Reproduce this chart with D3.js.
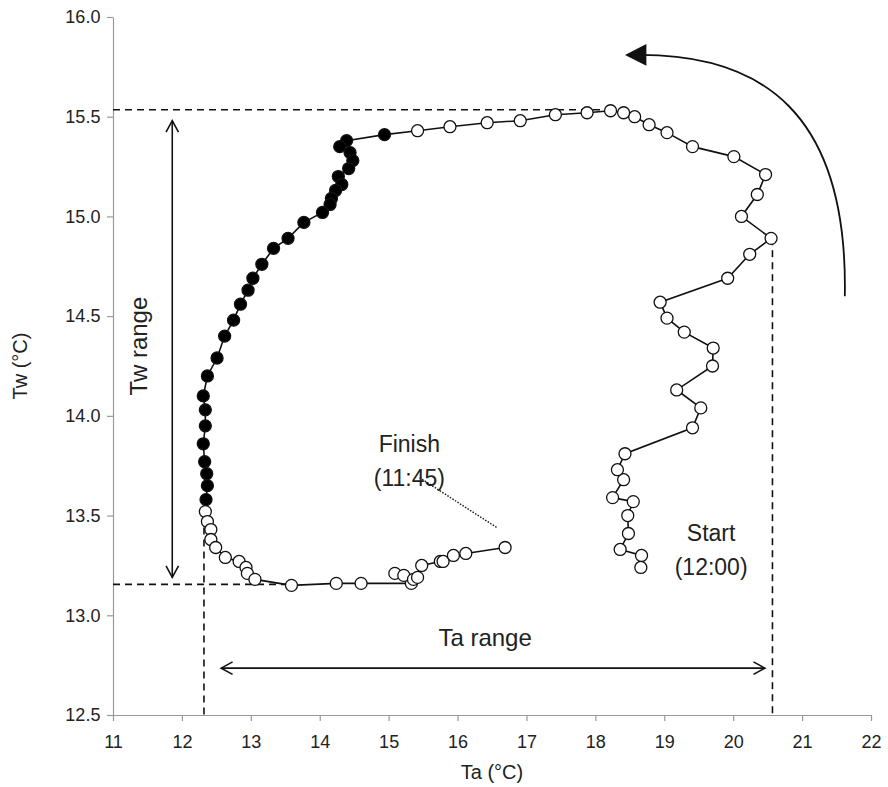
<!DOCTYPE html>
<html>
<head>
<meta charset="utf-8">
<script src="https://cdn.jsdelivr.net/npm/d3@7"></script>
<style>
  body { margin: 0; background: #fff; }
  text { font-family: "Liberation Sans", Arial, sans-serif; fill: #222; }
</style>
</head>
<body>
<div id="chart"></div>
<script>
// Ta / Tw track in time order, starting at 12:00 and finishing at 11:45
const ta = [18.66, 18.67, 18.36, 18.48, 18.47, 18.55, 18.25, 18.41, 18.32, 18.43,
  19.41, 19.53, 19.18, 19.70, 19.71, 19.29, 19.04, 18.94, 19.92, 20.24,
  20.55, 20.12, 20.35, 20.47, 20.01, 19.41, 19.04, 18.78, 18.57, 18.41,
  18.22, 17.88, 17.42, 16.91, 16.43, 15.89, 15.42,
  14.94, 14.39, 14.29, 14.44, 14.48, 14.42, 14.27, 14.32, 14.23, 14.17,
  14.15, 14.04, 13.77, 13.54, 13.33, 13.16, 13.03, 12.96, 12.85, 12.75,
  12.62, 12.51, 12.37, 12.31, 12.34, 12.34, 12.31, 12.33, 12.36, 12.37, 12.35,
  12.34, 12.37, 12.42, 12.42, 12.49, 12.63, 12.83, 12.93, 12.95, 13.06,
  13.59, 14.24, 14.60, 15.33, 15.09, 15.22, 15.36, 15.42, 15.48, 15.75,
  15.79, 15.94, 16.12, 16.69];
const tw = [13.24, 13.30, 13.33, 13.41, 13.50, 13.57, 13.59, 13.68, 13.73, 13.81,
  13.94, 14.04, 14.13, 14.25, 14.34, 14.42, 14.49, 14.57, 14.69, 14.81,
  14.89, 15.00, 15.11, 15.21, 15.30, 15.35, 15.42, 15.46, 15.50, 15.52,
  15.53, 15.52, 15.51, 15.48, 15.47, 15.45, 15.43,
  15.41, 15.38, 15.35, 15.32, 15.28, 15.24, 15.20, 15.16, 15.13, 15.09,
  15.06, 15.02, 14.97, 14.89, 14.84, 14.76, 14.69, 14.63, 14.56, 14.48,
  14.40, 14.29, 14.20, 14.10, 14.03, 13.95, 13.86, 13.77, 13.71, 13.65, 13.58,
  13.52, 13.47, 13.43, 13.38, 13.34, 13.29, 13.27, 13.24, 13.21, 13.18,
  13.15, 13.16, 13.16, 13.16, 13.21, 13.20, 13.18, 13.19, 13.25, 13.27,
  13.27, 13.30, 13.31, 13.34];
// points drawn filled (index range, inclusive)
const filledRange = [37, 67];

const xTicks = [11, 12, 13, 14, 15, 16, 17, 18, 19, 20, 21, 22];
const yTicks = [12.5, 13.0, 13.5, 14.0, 14.5, 15.0, 15.5, 16.0];

// range markers (data units)
const twMax = 15.535, twMin = 13.155;
const taMin = 12.32, taMax = 20.57;

const w = 888, h = 787;
const margin = {left: 113, right: 17, top: 17, bottom: 72};

const svg = d3.select("#chart").append("svg")
  .attr("width", w).attr("height", h);

const x = d3.scaleLinear().domain([11, 22]).range([margin.left, w - margin.right]);
const y = d3.scaleLinear().domain([12.5, 16]).range([h - margin.bottom, margin.top]);

// axes
const xAxis = d3.axisBottom(x).tickValues(xTicks).tickSize(6).tickSizeOuter(0)
  .tickFormat(d3.format("d"));
const yAxis = d3.axisLeft(y).tickValues(yTicks).tickSize(6).tickSizeOuter(0)
  .tickFormat(d3.format(".1f"));

const gx = svg.append("g").attr("transform", `translate(0,${y(12.5)})`).call(xAxis);
const gy = svg.append("g").attr("transform", `translate(${x(11)},0)`).call(yAxis);
[gx, gy].forEach(g => {
  g.selectAll("path, line").attr("stroke", "#9a9a9a").attr("stroke-width", 1.2);
  g.selectAll("text").attr("font-size", 18).attr("fill", "#2a2a2a")
    .style("font-family", "'Liberation Sans', Arial, sans-serif");
});
gx.selectAll("text").attr("dy", "1.35em");
gy.selectAll("text").attr("dx", "-0.2em");

svg.append("text").attr("x", x(16.5)).attr("y", 779)
  .attr("text-anchor", "middle").attr("font-size", 20).text("Ta (°C)");
svg.append("text").attr("transform", `translate(27,${y(14.25)}) rotate(-90)`)
  .attr("text-anchor", "middle").attr("font-size", 20).text("Tw (°C)");

// dashed range guides
const dash = svg.append("g").attr("stroke", "#111").attr("stroke-width", 1.6)
  .attr("stroke-dasharray", "7,5").attr("fill", "none");
dash.append("line").attr("x1", x(11)).attr("x2", x(18.22)).attr("y1", y(twMax)).attr("y2", y(twMax));
dash.append("line").attr("x1", x(11)).attr("x2", x(13.59)).attr("y1", y(twMin)).attr("y2", y(twMin));
dash.append("line").attr("x1", x(taMin)).attr("x2", x(taMin)).attr("y1", y(13.5)).attr("y2", y(12.5));
dash.append("line").attr("x1", x(taMax)).attr("x2", x(taMax)).attr("y1", y(14.89)).attr("y2", y(12.5));

// double headed arrows
function arrow(x1, y1, x2, y2) {
  const g = svg.append("g").attr("stroke", "#111").attr("stroke-width", 1.6).attr("fill", "none");
  g.append("line").attr("x1", x1).attr("y1", y1).attr("x2", x2).attr("y2", y2);
  const ang = Math.atan2(y2 - y1, x2 - x1);
  const head = (px, py, a) => {
    const L = 13, s = 0.5;
    g.append("path").attr("d",
      `M${px - L * Math.cos(a - s)},${py - L * Math.sin(a - s)} L${px},${py} L${px - L * Math.cos(a + s)},${py - L * Math.sin(a + s)}`);
  };
  head(x2, y2, ang);
  head(x1, y1, ang + Math.PI);
}
arrow(x(11.86), y(15.48), x(11.86), y(13.19));
arrow(x(12.57), y(12.735), x(20.46), y(12.735));

svg.append("text").attr("x", x(16.4)).attr("y", y(12.845))
  .attr("text-anchor", "middle").attr("font-size", 24).text("Ta range");
svg.append("text").attr("transform", `translate(${x(11.5)},${y(14.35)}) rotate(-90)`)
  .attr("text-anchor", "middle").attr("font-size", 24).text("Tw range");

// track line
const pts = ta.map((v, i) => ({ta: v, tw: tw[i], filled: i >= filledRange[0] && i <= filledRange[1]}));
const line = d3.line().x(d => x(d.ta)).y(d => y(d.tw));
svg.append("path").datum(pts).attr("d", line)
  .attr("fill", "none").attr("stroke", "#111").attr("stroke-width", 1.6);

svg.append("g").selectAll("circle").data(pts).enter().append("circle")
  .attr("cx", d => x(d.ta)).attr("cy", d => y(d.tw)).attr("r", 6)
  .attr("fill", d => d.filled ? "#000" : "#fff")
  .attr("stroke", "#111").attr("stroke-width", 1.3);

// labels
const lab = [["Finish", 15.3, 13.82], ["(11:45)", 15.3, 13.65], ["Start", 19.68, 13.37], ["(12:00)", 19.68, 13.2]];
lab.forEach(l => svg.append("text").attr("x", x(l[1])).attr("y", y(l[2]))
  .attr("text-anchor", "middle").attr("font-size", 23).text(l[0]));
svg.append("line").attr("x1", x(15.45)).attr("y1", y(13.69)).attr("x2", x(16.57)).attr("y2", y(13.44))
  .attr("stroke", "#111").attr("stroke-width", 1.4).attr("stroke-dasharray", "1.5,1.5");

// direction arrow (top right)
svg.append("path")
  .attr("d", `M${x(21.62)},${y(14.6)} C${x(21.67)},${y(15.53)} ${x(20.39)},${y(15.81)} ${x(18.65)},${y(15.81)}`)
  .attr("fill", "none").attr("stroke", "#111").attr("stroke-width", 1.8);
svg.append("path")
  .attr("d", `M${x(18.43)},${y(15.81)} L${x(18.74)},${y(15.865)} L${x(18.74)},${y(15.755)} Z`)
  .attr("fill", "#111");
</script>
</body>
</html>
